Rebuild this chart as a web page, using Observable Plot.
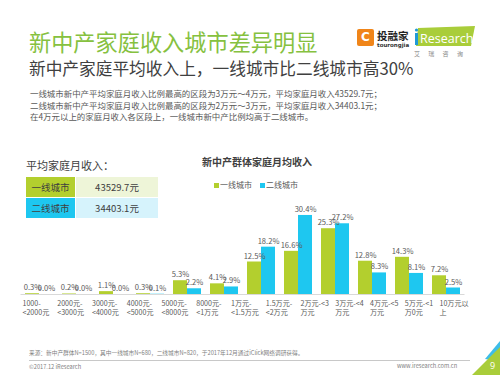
<!DOCTYPE html>
<html>
<head>
<meta charset="utf-8">
<script src="https://cdn.jsdelivr.net/npm/d3@7"></script>
<script src="https://cdn.jsdelivr.net/npm/@observablehq/plot@0.6"></script>
<style>
  html, body { margin: 0; padding: 0; background: #fff; }
  body { width: 500px; height: 375px; position: relative; overflow: hidden; font-family: "Noto Sans CJK SC", "Noto Sans", sans-serif; }
  .abs { position: absolute; white-space: nowrap; }
  #title { left: 29px; top: 29px; font-size: 22.2px; line-height: 24px; color: #86c13f; }
  #subtitle { left: 29px; top: 58px; font-size: 16.7px; line-height: 20px; color: #404040; }
  #para { left: 30px; top: 88px; font-size: 8.45px; line-height: 11.7px; color: #595959; }
  #avglabel { left: 26px; top: 158px; font-size: 11px; line-height: 14px; color: #404040; }
  .cell { position: absolute; height: 20px; line-height: 20px; text-align: center; font-size: 9.5px; color: #404040; }
  #ctitle { left: 202px; top: 155px; font-size: 10px; line-height: 13px; font-weight: bold; color: #404040; }
  .leg { font-size: 8px; line-height: 10px; color: #595959; }
  .sw { position: absolute; width: 5px; height: 5px; }
  .foot { font-size: 5.7px; line-height: 7px; color: #7f7f7f; }
  #bars { position: absolute; left: 0; top: 170px; }
  #xlabels { position: absolute; left: 0; top: 299.5px; }
</style>
</head>
<body>
<div id="title" class="abs">新中产家庭收入城市差异明显</div>
<div id="subtitle" class="abs">新中产家庭平均收入上，一线城市比二线城市高30%</div>
<div id="para" class="abs">一线城市新中产平均家庭月收入比例最高的区段为3万元～4万元，平均家庭月收入43529.7元；<br>二线城市新中产平均家庭月收入比例最高的区段为2万元～3万元，平均家庭月收入34403.1元；<br>在4万元以上的家庭月收入各区段上，一线城市新中产比例均高于二线城市。</div>

<!-- logos -->
<div class="abs" style="left:357px;top:29px;width:17px;height:17px;background:#f08519;border-radius:2px;"></div>
<div class="abs" style="left:360px;top:31px;width:11px;height:13px;color:#fff;font:bold 12px/13px 'DejaVu Sans';text-align:center;">C</div>
<div class="abs" style="left:377px;top:29px;font-size:10.5px;line-height:13px;font-weight:bold;color:#222;">投融家</div>
<div class="abs" style="left:377px;top:42px;font-size:5.5px;line-height:6px;font-weight:bold;color:#333;font-family:'DejaVu Sans';">tourongjia</div>
<svg class="abs" style="left:410px;top:24px;" width="70" height="26">
  <polygon points="8,4 65,2 61,22 6,22" fill="#a9cd3a"/>
  <circle cx="6.5" cy="6" r="1.6" fill="#1f9ad6"/>
  <rect x="5" y="9" width="3" height="12" fill="#1f9ad6"/>
  <text x="10" y="18.5" font-size="12.5" fill="#fff" font-family="Open Sans, DejaVu Sans">Research</text>
</svg>
<div class="abs" style="left:414px;top:50px;font-size:6px;line-height:7px;color:#888;letter-spacing:8.3px;">艾瑞咨询</div>

<div id="avglabel" class="abs">平均家庭月收入：</div>
<div id="table"></div>

<div id="ctitle" class="abs">新中产群体家庭月均收入</div>
<div id="legend"></div>

<div id="bars"></div>
<div id="xlabels"></div>

<div class="abs foot" style="left:29px;top:348.5px;">来源：新中产群体N=1500，其中一线城市N=680，二线城市N=820，于2017年12月通过iClick网络调研获得。</div>
<div class="abs" style="left:29px;top:359.5px;width:441px;height:1px;background:#c8c8c8;"></div>
<div class="abs foot" style="left:29px;top:362.5px;">©2017.12 iResearch</div>
<div class="abs foot" style="left:397px;top:361.5px;">www.iresearch.com.cn</div>
<svg class="abs" style="left:460px;top:335px;" width="40" height="40">
  <polygon points="25,24 40,6 40,16 31,25" fill="#3dbde9"/>
  <polygon points="12,40 40,12 40,40" fill="#a9cd3a"/>
  <text x="30" y="34" font-size="9" fill="#fff" font-family="Open Sans, DejaVu Sans">9</text>
</svg>

<script>
// ---- data ----
const categories = ["1000-\n<2000元","2000元-\n<3000元","3000元-\n<4000元","4000元-\n<5000元","5000元-\n<8000元","8000元-\n<1万元","1万元-\n<1.5万元","1.5万元-\n<2万元","2万元-<3\n万元","3万元-<4\n万元","4万元-<5\n万元","5万元-<1\n万0元","10万元以\n上"];
const series = ["一线城市", "二线城市"];
const tier1 = [0.3, 0.2, 1.1, 0.3, 5.3, 4.1, 12.5, 16.6, 25.3, 12.8, 14.3, 7.2];
const tier2 = [0.0, 0.0, 0.0, 0.1, 2.2, 2.9, 18.2, 30.4, 27.2, 8.3, 8.1, 2.5];
const avgCities = ["一线城市", "二线城市"];
const avgIncome = ["43529.7元", "34403.1元"];

const colors = ["#b3cf2e", "#1ec7f0"];
const lightColors = ["#eef5d8", "#d6f3fc"];

// ---- table ----
const table = document.getElementById("table");
avgCities.forEach((c, i) => {
  const top = 177 + i * 21;
  table.insertAdjacentHTML("beforeend",
    `<div class="cell" style="left:26px;top:${top}px;width:49px;background:${colors[i]};">${c}</div>` +
    `<div class="cell" style="left:76px;top:${top}px;width:82px;background:${lightColors[i]};">${avgIncome[i]}</div>`);
});

// ---- legend ----
const legend = document.getElementById("legend");
series.forEach((s, i) => {
  const x = 214 + i * 46;
  legend.insertAdjacentHTML("beforeend",
    `<div class="sw" style="left:${x}px;top:182.5px;background:${colors[i]};"></div>` +
    `<div class="abs leg" style="left:${x + 6}px;top:180px;">${s}</div>`);
});

// ---- bars ----
const barCats = categories.slice(0, tier1.length);
const d1 = barCats.map((c, i) => ({cat: c, v: tier1[i]}));
const d2 = barCats.map((c, i) => ({cat: c, v: tier2[i]}));
const fmt = d => d.v.toFixed(1) + "%";
const labelStyle = {fontSize: "7.6px", fill: "#595959", lineAnchor: "bottom", dy: -3.5, fontFamily: "Noto Sans CJK SC, sans-serif"};

const bars = Plot.plot({
  width: 500,
  height: 125,
  marginTop: 20,
  marginBottom: 1,
  marginLeft: 20.5,
  marginRight: 35.5,
  x: {type: "band", domain: barCats, padding: 0, round: false, axis: null},
  y: {domain: [0, 40], axis: null},
  style: {background: "transparent", overflow: "visible"},
  marks: [
    Plot.barY(d1, {x: "cat", y: "v", fill: colors[0], insetLeft: 4.5, insetRight: 18.5}),
    Plot.barY(d2, {x: "cat", y: "v", fill: colors[1], insetLeft: 18.5, insetRight: 4.5}),
    Plot.ruleY([0], {stroke: "#d9d9d9", strokeWidth: 1}),
    Plot.text(d1, {x: "cat", y: "v", text: fmt, dx: -7, ...labelStyle}),
    Plot.text(d2, {x: "cat", y: "v", text: fmt, dx: 7, ...labelStyle})
  ]
});
document.getElementById("bars").appendChild(bars);

// ---- x labels (the reference's 13 labels are spaced independently of the 12 bar groups) ----
const xl = Plot.plot({
  width: 500,
  height: 20,
  marginTop: 0,
  marginBottom: 0,
  marginLeft: 19,
  marginRight: 29.25,
  x: {type: "band", domain: categories, padding: 0, round: false, axis: null},
  style: {background: "transparent", overflow: "visible"},
  marks: [
    Plot.text(categories, {x: d => d, text: d => d, frameAnchor: "top", lineAnchor: "top",
      textAnchor: "start", dx: -14.4, lineHeight: 1.18, fontSize: 7.1, fill: "#595959",
      fontFamily: "Noto Sans CJK SC, sans-serif"})
  ]
});
document.getElementById("xlabels").appendChild(xl);
</script>
</body>
</html>
